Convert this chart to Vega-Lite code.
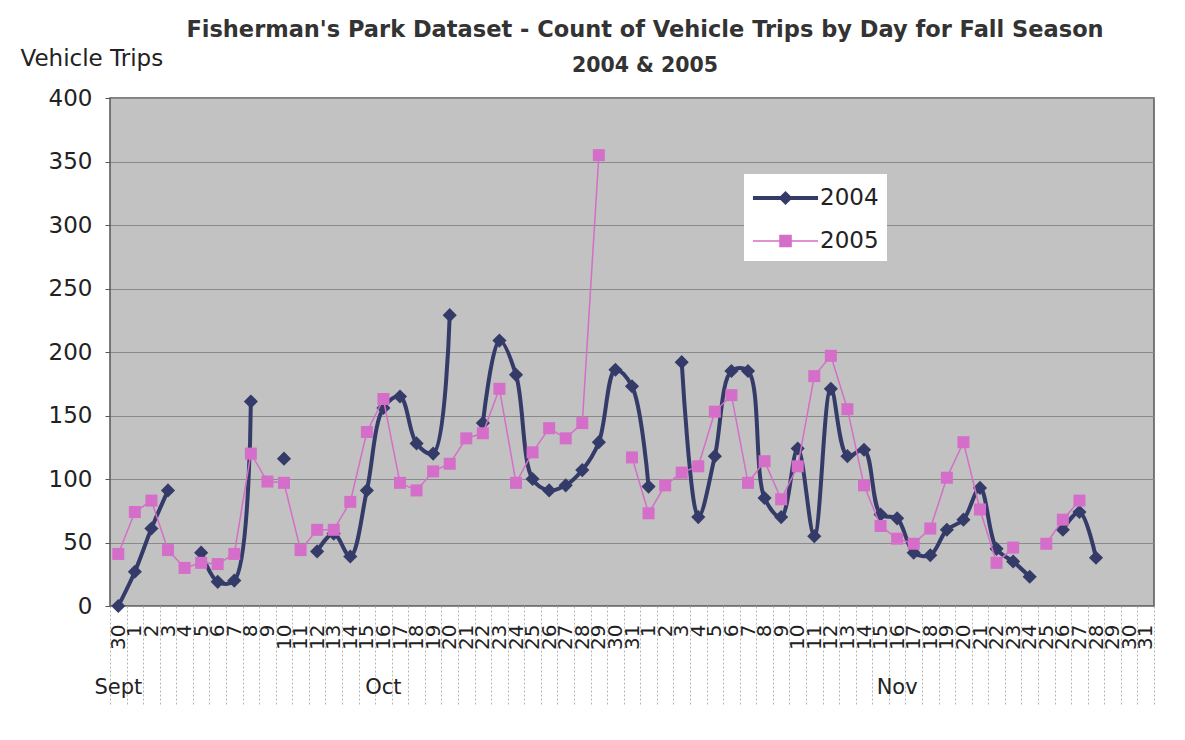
{
  "$schema": "https://vega.github.io/schema/vega-lite/v6.json",
  "width": 1044,
  "height": 508,
  "autosize": {"type": "none"},
  "padding": {"left": 110, "top": 98, "right": 31, "bottom": 134},
  "background": "#ffffff",
  "title": {
    "text": "Fisherman's Park Dataset - Count of Vehicle Trips by Day for Fall Season",
    "subtitle": "2004 & 2005",
    "font": "DejaVu Sans",
    "fontSize": 22.5,
    "fontWeight": "bold",
    "color": "#333333",
    "subtitleFont": "DejaVu Sans",
    "subtitleFontSize": 20.5,
    "subtitleFontWeight": "bold",
    "subtitleColor": "#333333",
    "subtitlePadding": 14,
    "anchor": "middle",
    "dx": 13,
    "offset": -29
  },
  "config": {
    "view": {"fill": "#c2c2c2", "stroke": "#555555", "strokeWidth": 1.5},
    "font": "DejaVu Sans"
  },
  "data": {
    "values": [
      {"day": "Sep 30", "year": "2004", "trips": 0},
      {"day": "Oct 1", "year": "2004", "trips": 27},
      {"day": "Oct 2", "year": "2004", "trips": 61},
      {"day": "Oct 3", "year": "2004", "trips": 91},
      {"day": "Oct 4", "year": "2004", "trips": null},
      {"day": "Oct 5", "year": "2004", "trips": 42},
      {"day": "Oct 6", "year": "2004", "trips": 19},
      {"day": "Oct 7", "year": "2004", "trips": 20},
      {"day": "Oct 8", "year": "2004", "trips": 161},
      {"day": "Oct 9", "year": "2004", "trips": null},
      {"day": "Oct 10", "year": "2004", "trips": 116},
      {"day": "Oct 11", "year": "2004", "trips": null},
      {"day": "Oct 12", "year": "2004", "trips": 43},
      {"day": "Oct 13", "year": "2004", "trips": 57},
      {"day": "Oct 14", "year": "2004", "trips": 39},
      {"day": "Oct 15", "year": "2004", "trips": 91},
      {"day": "Oct 16", "year": "2004", "trips": 156},
      {"day": "Oct 17", "year": "2004", "trips": 165},
      {"day": "Oct 18", "year": "2004", "trips": 128},
      {"day": "Oct 19", "year": "2004", "trips": 120},
      {"day": "Oct 20", "year": "2004", "trips": 229},
      {"day": "Oct 21", "year": "2004", "trips": null},
      {"day": "Oct 22", "year": "2004", "trips": 144},
      {"day": "Oct 23", "year": "2004", "trips": 209},
      {"day": "Oct 24", "year": "2004", "trips": 182},
      {"day": "Oct 25", "year": "2004", "trips": 100},
      {"day": "Oct 26", "year": "2004", "trips": 91},
      {"day": "Oct 27", "year": "2004", "trips": 95},
      {"day": "Oct 28", "year": "2004", "trips": 107},
      {"day": "Oct 29", "year": "2004", "trips": 129},
      {"day": "Oct 30", "year": "2004", "trips": 186},
      {"day": "Oct 31", "year": "2004", "trips": 173},
      {"day": "Nov 1", "year": "2004", "trips": 94},
      {"day": "Nov 2", "year": "2004", "trips": null},
      {"day": "Nov 3", "year": "2004", "trips": 192},
      {"day": "Nov 4", "year": "2004", "trips": 70},
      {"day": "Nov 5", "year": "2004", "trips": 118},
      {"day": "Nov 6", "year": "2004", "trips": 185},
      {"day": "Nov 7", "year": "2004", "trips": 185},
      {"day": "Nov 8", "year": "2004", "trips": 85},
      {"day": "Nov 9", "year": "2004", "trips": 70},
      {"day": "Nov 10", "year": "2004", "trips": 124},
      {"day": "Nov 11", "year": "2004", "trips": 55},
      {"day": "Nov 12", "year": "2004", "trips": 171},
      {"day": "Nov 13", "year": "2004", "trips": 118},
      {"day": "Nov 14", "year": "2004", "trips": 123},
      {"day": "Nov 15", "year": "2004", "trips": 72},
      {"day": "Nov 16", "year": "2004", "trips": 69},
      {"day": "Nov 17", "year": "2004", "trips": 42},
      {"day": "Nov 18", "year": "2004", "trips": 40},
      {"day": "Nov 19", "year": "2004", "trips": 60},
      {"day": "Nov 20", "year": "2004", "trips": 68},
      {"day": "Nov 21", "year": "2004", "trips": 93},
      {"day": "Nov 22", "year": "2004", "trips": 45},
      {"day": "Nov 23", "year": "2004", "trips": 35},
      {"day": "Nov 24", "year": "2004", "trips": 23},
      {"day": "Nov 25", "year": "2004", "trips": null},
      {"day": "Nov 26", "year": "2004", "trips": 60},
      {"day": "Nov 27", "year": "2004", "trips": 74},
      {"day": "Nov 28", "year": "2004", "trips": 38},
      {"day": "Nov 29", "year": "2004", "trips": null},
      {"day": "Nov 30", "year": "2004", "trips": null},
      {"day": "Nov 31", "year": "2004", "trips": null},
      {"day": "Sep 30", "year": "2005", "trips": 41},
      {"day": "Oct 1", "year": "2005", "trips": 74},
      {"day": "Oct 2", "year": "2005", "trips": 83},
      {"day": "Oct 3", "year": "2005", "trips": 44},
      {"day": "Oct 4", "year": "2005", "trips": 30},
      {"day": "Oct 5", "year": "2005", "trips": 34},
      {"day": "Oct 6", "year": "2005", "trips": 33},
      {"day": "Oct 7", "year": "2005", "trips": 41},
      {"day": "Oct 8", "year": "2005", "trips": 120},
      {"day": "Oct 9", "year": "2005", "trips": 98},
      {"day": "Oct 10", "year": "2005", "trips": 97},
      {"day": "Oct 11", "year": "2005", "trips": 44},
      {"day": "Oct 12", "year": "2005", "trips": 60},
      {"day": "Oct 13", "year": "2005", "trips": 60},
      {"day": "Oct 14", "year": "2005", "trips": 82},
      {"day": "Oct 15", "year": "2005", "trips": 137},
      {"day": "Oct 16", "year": "2005", "trips": 163},
      {"day": "Oct 17", "year": "2005", "trips": 97},
      {"day": "Oct 18", "year": "2005", "trips": 91},
      {"day": "Oct 19", "year": "2005", "trips": 106},
      {"day": "Oct 20", "year": "2005", "trips": 112},
      {"day": "Oct 21", "year": "2005", "trips": 132},
      {"day": "Oct 22", "year": "2005", "trips": 136},
      {"day": "Oct 23", "year": "2005", "trips": 171},
      {"day": "Oct 24", "year": "2005", "trips": 97},
      {"day": "Oct 25", "year": "2005", "trips": 121},
      {"day": "Oct 26", "year": "2005", "trips": 140},
      {"day": "Oct 27", "year": "2005", "trips": 132},
      {"day": "Oct 28", "year": "2005", "trips": 144},
      {"day": "Oct 29", "year": "2005", "trips": 355},
      {"day": "Oct 30", "year": "2005", "trips": null},
      {"day": "Oct 31", "year": "2005", "trips": 117},
      {"day": "Nov 1", "year": "2005", "trips": 73},
      {"day": "Nov 2", "year": "2005", "trips": 95},
      {"day": "Nov 3", "year": "2005", "trips": 105},
      {"day": "Nov 4", "year": "2005", "trips": 110},
      {"day": "Nov 5", "year": "2005", "trips": 153},
      {"day": "Nov 6", "year": "2005", "trips": 166},
      {"day": "Nov 7", "year": "2005", "trips": 97},
      {"day": "Nov 8", "year": "2005", "trips": 114},
      {"day": "Nov 9", "year": "2005", "trips": 84},
      {"day": "Nov 10", "year": "2005", "trips": 110},
      {"day": "Nov 11", "year": "2005", "trips": 181},
      {"day": "Nov 12", "year": "2005", "trips": 197},
      {"day": "Nov 13", "year": "2005", "trips": 155},
      {"day": "Nov 14", "year": "2005", "trips": 95},
      {"day": "Nov 15", "year": "2005", "trips": 63},
      {"day": "Nov 16", "year": "2005", "trips": 53},
      {"day": "Nov 17", "year": "2005", "trips": 49},
      {"day": "Nov 18", "year": "2005", "trips": 61},
      {"day": "Nov 19", "year": "2005", "trips": 101},
      {"day": "Nov 20", "year": "2005", "trips": 129},
      {"day": "Nov 21", "year": "2005", "trips": 76},
      {"day": "Nov 22", "year": "2005", "trips": 34},
      {"day": "Nov 23", "year": "2005", "trips": 46},
      {"day": "Nov 24", "year": "2005", "trips": null},
      {"day": "Nov 25", "year": "2005", "trips": 49},
      {"day": "Nov 26", "year": "2005", "trips": 68},
      {"day": "Nov 27", "year": "2005", "trips": 83},
      {"day": "Nov 28", "year": "2005", "trips": null},
      {"day": "Nov 29", "year": "2005", "trips": null},
      {"day": "Nov 30", "year": "2005", "trips": null},
      {"day": "Nov 31", "year": "2005", "trips": null}
    ]
  },
  "resolve": {"axis": {"x": "independent"}},
  "layer": [
    {
      "transform": [{"filter": "datum.year == '2004'"}],
      "mark": {"type": "line", "interpolate": "catmull-rom", "strokeWidth": 4, "color": "#353b68", "strokeJoin": "round"},
      "encoding": {
        "x": {
          "field": "day", "type": "ordinal", "sort": null,
          "scale": {"type": "band", "paddingInner": 0, "paddingOuter": 0},
          "axis": {
            "orient": "bottom",
            "title": null,
            "labelAngle": 270,
            "labelExpr": "split(datum.value, ' ')[1]",
            "labelFont": "DejaVu Sans",
            "labelFontSize": 20,
            "labelColor": "#222222",
            "labelOverlap": false,
            "labelBound": false,
            "labelFlush": false,
            "labelPadding": -82,
            "ticks": true,
            "tickBand": "extent",
            "tickSize": 100,
            "tickColor": "#b5b5b5",
            "tickDash": [2, 2],
            "tickWidth": 1,
            "domain": false,
            "grid": false
          }
        },
        "y": {
          "field": "trips", "type": "quantitative",
          "scale": {"domain": [0, 400], "nice": false, "zero": true},
          "axis": {
            "values": [0, 50, 100, 150, 200, 250, 300, 350, 400],
            "title": "Vehicle Trips",
            "titleAngle": 0,
            "titleX": -90,
            "titleY": -33,
            "titleAlign": "left",
            "titleBaseline": "alphabetic",
            "titleFont": "DejaVu Sans",
            "titleFontSize": 23,
            "titleFontWeight": "normal",
            "titleColor": "#222222",
            "labelFont": "DejaVu Sans",
            "labelFontSize": 23,
            "labelColor": "#222222",
            "labelPadding": 13,
            "tickSize": 5,
            "tickColor": "#555555",
            "domain": false,
            "grid": true,
            "gridColor": "#8a8a8a",
            "gridWidth": 1
          }
        }
      }
    },
    {
      "transform": [{"filter": "datum.year == '2004'"}],
      "mark": {"type": "point", "filled": true, "opacity": 1, "size": 200, "shape": "diamond", "color": "#353b68"},
      "encoding": {
        "x": {
          "field": "day", "type": "ordinal", "sort": null,
          "axis": {
            "orient": "bottom",
            "title": null,
            "values": ["Sep 30", "Oct 16", "Nov 16"],
            "labelExpr": "datum.value == 'Sep 30' ? 'Sept' : split(datum.value, ' ')[0]",
            "labelAngle": 0,
            "labelAlign": "center",
            "labelBaseline": "top",
            "labelDx": 8,
            "labelFont": "DejaVu Sans",
            "labelFontSize": 21,
            "labelColor": "#222222",
            "labelPadding": 0,
            "labelOverlap": false,
            "offset": 70,
            "ticks": false,
            "domain": false,
            "grid": false
          }
        },
        "y": {"field": "trips", "type": "quantitative"}
      }
    },
    {
      "transform": [{"filter": "datum.year == '2005'"}],
      "mark": {"type": "line", "interpolate": "linear", "strokeWidth": 1.5, "color": "#d46ec8"},
      "encoding": {
        "x": {"field": "day", "type": "ordinal", "sort": null, "axis": null},
        "y": {"field": "trips", "type": "quantitative"}
      }
    },
    {
      "transform": [{"filter": "datum.year == '2005'"}],
      "mark": {"type": "point", "filled": true, "opacity": 1, "size": 144, "shape": "square", "color": "#d46ec8"},
      "encoding": {
        "x": {"field": "day", "type": "ordinal", "sort": null, "axis": null},
        "y": {"field": "trips", "type": "quantitative"}
      }
    },
    {
      "mark": {"type": "point", "filled": true, "opacity": 0},
      "encoding": {
        "x": {"field": "day", "type": "ordinal", "sort": null, "axis": null},
        "y": {"field": "trips", "type": "quantitative"},
        "color": {
          "field": "year", "type": "nominal",
          "scale": {"domain": ["2004", "2005"], "range": ["#353b68", "#d46ec8"]},
          "legend": {
            "title": null,
            "orient": "none",
            "legendX": 634,
            "legendY": 76,
            "fillColor": "#ffffff",
            "padding": 8,
            "rowPadding": 15,
            "symbolSize": 900,
            "symbolOffset": 17.5,
            "labelOffset": 18.5,
            "labelFont": "DejaVu Sans",
            "labelFontSize": 23,
            "labelColor": "#222222",
            "symbolOpacity": 1
          }
        },
        "shape": {
          "field": "year", "type": "nominal",
          "scale": {"domain": ["2004", "2005"], "range": ["M-2.17,-0.14H2.17V0.14H-2.17Z M0,-0.47L0.47,0L0,0.47L-0.47,0Z", "M-2.17,-0.05H2.17V0.05H-2.17Z M-0.42,-0.42H0.42V0.42H-0.42Z"]},
          "legend": null
        }
      }
    }
  ]
}
